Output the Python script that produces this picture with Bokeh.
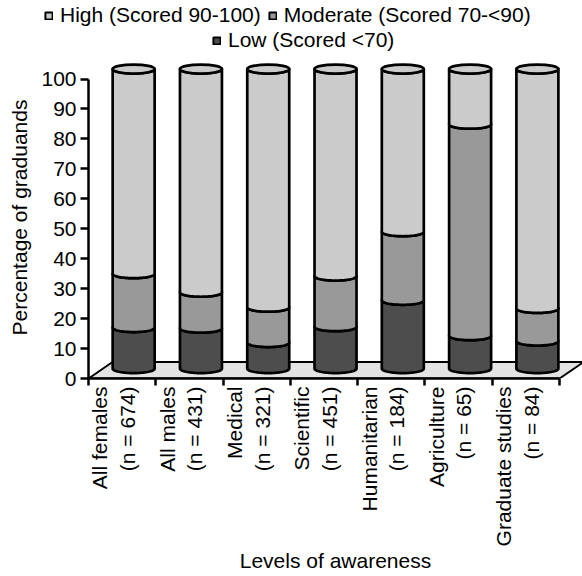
import math
import numpy as np
from bokeh.plotting import figure
from bokeh.layouts import column
from bokeh.models import FixedTicker, Legend, LegendItem, Range1d
from bokeh.embed import file_html
from bokeh.resources import INLINE

# ---- data ----
categories = ["All females", "All males", "Medical", "Scientific",
              "Humanitarian", "Agriculture", "Graduate studies"]
n_counts = [674, 431, 321, 451, 184, 65, 84]
low = [13.7, 13.5, 8.7, 14.0, 22.8, 11.0, 9.2]
moderate = [18.0, 12.0, 11.8, 16.9, 22.9, 70.6, 10.9]
high = [68.3, 74.5, 79.5, 69.1, 54.3, 18.4, 79.9]
y_ticks = [0, 10, 20, 30, 40, 50, 60, 70, 80, 90, 100]
series_names = ["High (Scored 90-100)", "Moderate (Scored 70-<90)", "Low (Scored <70)"]

# ---- style ----
FONT = "Liberation Sans"
FS = "21px"
C_HIGH, C_MOD, C_LOW = "#cbcbcb", "#999999", "#4d4d4d"
FLOOR = "#e3e3e3"
SHIFT_X, SHIFT_Y = 0.171, 3.3      # cylinders sit mid-depth
FLOOR_X, FLOOR_Y = 0.357, 5.5      # floor depth
A, B = 0.312, 1.5                  # ellipse semi-axes (data units)
LABEL_SHIFT = 0.125                # tick-label block sits slightly left of centre
LW = 2.5
TOTAL_W, TOTAL_H = 582, 576
LEG_H = 56
colors = {series_names[0]: C_HIGH, series_names[1]: C_MOD, series_names[2]: C_LOW}
series_vals = {series_names[0]: high, series_names[1]: moderate, series_names[2]: low}

ncat = len(categories)

# ---------------- legend strip ----------------
pl = figure(width=TOTAL_W, height=LEG_H, x_range=Range1d(0, 1), y_range=Range1d(0, 1),
            output_backend="svg", toolbar_location=None,
            x_axis_location=None, y_axis_location=None,
            min_border=0, min_border_left=0, min_border_right=0,
            min_border_top=0, min_border_bottom=0)
pl.frame_align = False
pl.grid.visible = False
pl.outline_line_color = None
proxy = {nm: pl.vbar(x=list(range(ncat)), top=series_vals[nm], width=0.5,
                     fill_color=colors[nm], line_color="black", line_width=2,
                     visible=False)
         for nm in series_names}

def make_legend(names, loc):
    return Legend(items=[LegendItem(label=nm, renderers=[proxy[nm]]) for nm in names],
                  orientation="horizontal", location=loc,
                  label_text_font=FONT, label_text_font_size=FS,
                  label_text_color="black", glyph_width=9, glyph_height=9,
                  label_height=22, label_standoff=7, spacing=7, padding=0, margin=0,
                  border_line_alpha=0, background_fill_alpha=0,
                  inactive_fill_alpha=0)

pl.add_layout(make_legend(series_names[:2], (44, LEG_H - 27)), "center")
pl.add_layout(make_legend([series_names[2]], (212, LEG_H - 52)), "center")

# ---------------- main chart ----------------
MAIN_H = TOTAL_H - LEG_H
FRAME_H = 322
PX_PER_UNIT = 2.995
p = figure(width=TOTAL_W, height=MAIN_H,
           x_range=Range1d(-0.5, -0.5 + (TOTAL_W - 88) / 67.29),
           y_range=Range1d(0, FRAME_H / PX_PER_UNIT),
           output_backend="svg", toolbar_location=None,
           min_border_left=88, min_border_right=0,
           min_border_top=0, min_border_bottom=MAIN_H - FRAME_H)
p.frame_align = False
p.outline_line_color = None
p.xgrid.visible = False
p.ygrid.visible = False

# floor
p.patch([-0.5, ncat - 0.5, ncat - 0.5 + FLOOR_X, -0.5 + FLOOR_X],
        [0, 0, FLOOR_Y, FLOOR_Y], fill_color=FLOOR, line_color="black",
        line_width=2)

t = np.linspace(np.pi, 2 * np.pi, 41)

def segment(c, y0, y1):
    xb = c + A * np.cos(t)
    yb = y0 + B * np.sin(t)
    xt = (c + A * np.cos(t))[::-1]
    yt = (y1 + B * np.sin(t))[::-1]
    return ([float(v) for v in list(xb) + list(xt)],
            [float(v) for v in list(yb) + list(yt)])

centers = [float(i + SHIFT_X) for i in range(ncat)]
bottoms = [SHIFT_Y] * ncat
for name in [series_names[2], series_names[1], series_names[0]]:
    vals = series_vals[name]
    xs, ys = [], []
    for i in range(ncat):
        x, y = segment(centers[i], bottoms[i], bottoms[i] + vals[i])
        xs.append(x)
        ys.append(y)
    p.patches(xs, ys, fill_color=colors[name], line_color="black",
              line_width=2.7, line_join="round")
    bottoms = [b + v for b, v in zip(bottoms, vals)]

# top caps
p.ellipse(x=centers, y=bottoms, width=2 * A, height=2 * B,
          fill_color=C_HIGH, line_color="black", line_width=2.7)

# ---- axes ----
yax = p.yaxis[0]
yax.bounds = (0, 100)
yax.ticker = FixedTicker(ticks=y_ticks)
yax.axis_label = "Percentage of graduands"
xax = p.xaxis[0]
xax.bounds = (-0.5, ncat - 0.5)
label_pos = [i - LABEL_SHIFT for i in range(ncat)]
xax.ticker = FixedTicker(ticks=label_pos,
                         minor_ticks=[i - 0.5 for i in range(ncat + 1)])
xax.major_label_overrides = {pos: f"{c}\n(n = {n})"
                             for pos, c, n in zip(label_pos, categories, n_counts)}
xax.major_label_orientation = math.pi / 2
xax.axis_label = "Levels of awareness"

for ax in (xax, yax):
    ax.axis_line_width = LW
    ax.axis_line_color = "black"
    ax.major_tick_line_width = LW
    ax.minor_tick_line_width = LW
    ax.major_tick_in = 0
    ax.minor_tick_in = 0
    ax.major_label_text_font = FONT
    ax.major_label_text_color = "black"
    ax.major_label_text_font_size = FS
    ax.axis_label_text_font = FONT
    ax.axis_label_text_font_style = "normal"
    ax.axis_label_text_color = "black"
    ax.axis_label_text_font_size = FS

yax.major_tick_out = 8
yax.minor_tick_out = 0
yax.major_label_standoff = 4
yax.axis_label_standoff = 7

xax.major_tick_out = 0
xax.minor_tick_out = 7
xax.major_label_standoff = 1
xax.axis_label_standoff = 0

layout = column(pl, p, spacing=0)
open("out.html", "w").write(file_html(layout, INLINE))
